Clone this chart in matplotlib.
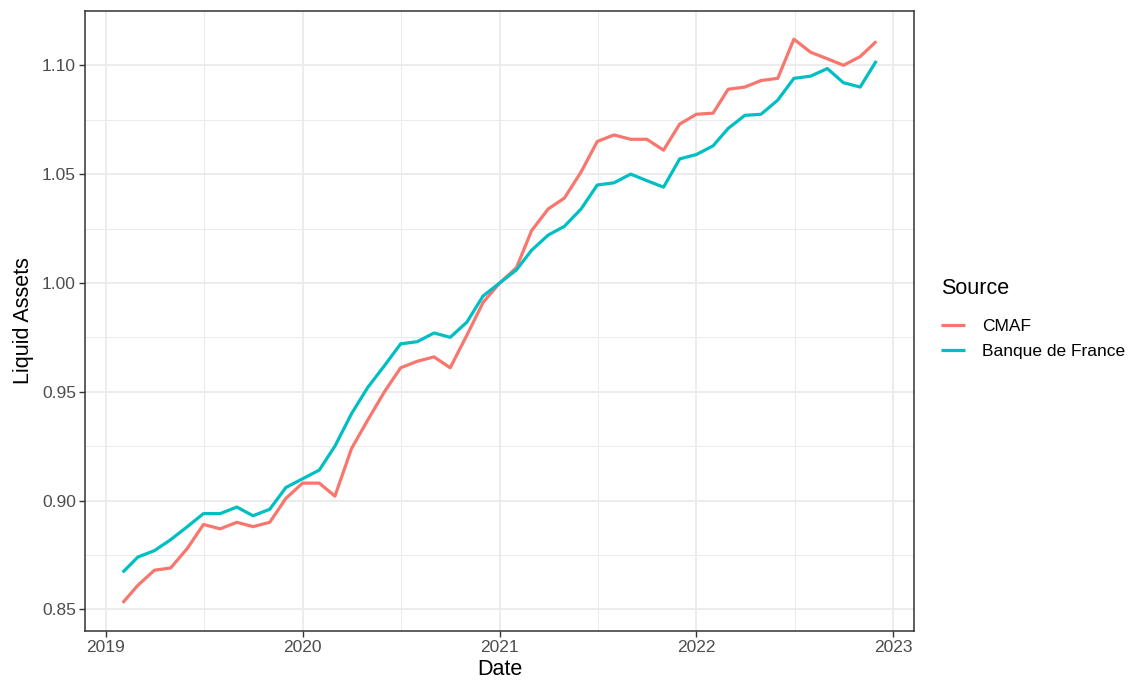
import matplotlib
matplotlib.use("Agg")
import matplotlib.pyplot as plt
import matplotlib.dates as mdates
from matplotlib.ticker import FixedLocator, FuncFormatter
import pandas as pd

plt.rcParams['font.family'] = ['Liberation Sans', 'DejaVu Sans']

dates = pd.date_range('2019-02-01', '2022-12-01', freq='MS')

cmaf = [0.853, 0.861, 0.868, 0.869, 0.878, 0.889, 0.887, 0.890, 0.888, 0.890,
        0.901, 0.908, 0.908, 0.902, 0.924, 0.937, 0.950, 0.961, 0.964, 0.966,
        0.961, 0.976, 0.991, 1.000, 1.007, 1.024, 1.034, 1.039, 1.051, 1.065,
        1.068, 1.066, 1.066, 1.061, 1.073, 1.0775, 1.078, 1.089, 1.090, 1.093,
        1.094, 1.112, 1.106, 1.103, 1.100, 1.104, 1.111]
bdf = [0.867, 0.874, 0.877, 0.882, 0.888, 0.894, 0.894, 0.897, 0.893, 0.896,
       0.906, 0.910, 0.914, 0.925, 0.940, 0.952, 0.962, 0.972, 0.973, 0.977,
       0.975, 0.982, 0.994, 1.000, 1.006, 1.015, 1.022, 1.026, 1.034, 1.045,
       1.046, 1.050, 1.047, 1.044, 1.057, 1.059, 1.063, 1.071, 1.077, 1.0775,
       1.084, 1.094, 1.095, 1.0985, 1.092, 1.090, 1.102]

series_names = ['CMAF', 'Banque de France']
colors = ['#F8766D', '#00BFC4']
year_ticks = ['2019', '2020', '2021', '2022', '2023']
y_ticks = [0.85, 0.90, 0.95, 1.00, 1.05, 1.10]

W, H = 1146, 685
fig = plt.figure(figsize=(W / 100, H / 100), dpi=100)
ax = fig.add_axes([85 / W, (H - 631) / H, (914 - 85) / W, (631 - 11) / H])

for vals, name, c in zip([cmaf, bdf], series_names, colors):
    ax.plot(dates, vals, color=c, lw=2.3, label=name, solid_capstyle='butt')

ax.margins(x=0.05, y=0.05)

major_x = [mdates.date2num(pd.Timestamp(y + '-01-01')) for y in year_ticks]
minor_x = [(a + b) / 2 for a, b in zip(major_x[:-1], major_x[1:])]
ax.xaxis.set_major_locator(FixedLocator(major_x))
ax.xaxis.set_minor_locator(FixedLocator(minor_x))
ax.xaxis.set_major_formatter(FuncFormatter(lambda v, p: mdates.num2date(v).strftime('%Y')))

ax.yaxis.set_major_locator(FixedLocator(y_ticks))
minor_y = [(a + b) / 2 for a, b in zip(y_ticks[:-1], y_ticks[1:])]
minor_y = [y_ticks[0] - 0.025] + minor_y + [y_ticks[-1] + 0.025]
ax.yaxis.set_minor_locator(FixedLocator(minor_y))
ax.yaxis.set_major_formatter(FuncFormatter(lambda v, p: f'{v:.2f}'))

ax.grid(which='major', color='#EBEBEB', lw=1.3)
ax.grid(which='minor', color='#EBEBEB', lw=0.7)
ax.set_axisbelow(True)

for s in ax.spines.values():
    s.set_color('#333333')
    s.set_linewidth(1.1)

ax.tick_params(which='major', length=4, width=1.0, color='#333333',
               labelsize=12.5, labelcolor='#4D4D4D', pad=2.5)
ax.tick_params(which='minor', length=0)

ax.set_xlabel('Date', fontsize=15.5, color='black', labelpad=3)
ax.set_ylabel('Liquid Assets', fontsize=15.5, color='black', labelpad=6)

fig.text(941 / W, 1 - 288 / H, 'Source', fontsize=15.5, va='center', ha='left')
leg = ax.legend(loc='upper left',
                bbox_to_anchor=(925 / W, 1 - 303 / H), bbox_transform=fig.transFigure,
                frameon=False, fontsize=12.5,
                handlelength=1.4, handletextpad=1.0, labelspacing=0.6)

fig.savefig('out.png', dpi=100)
